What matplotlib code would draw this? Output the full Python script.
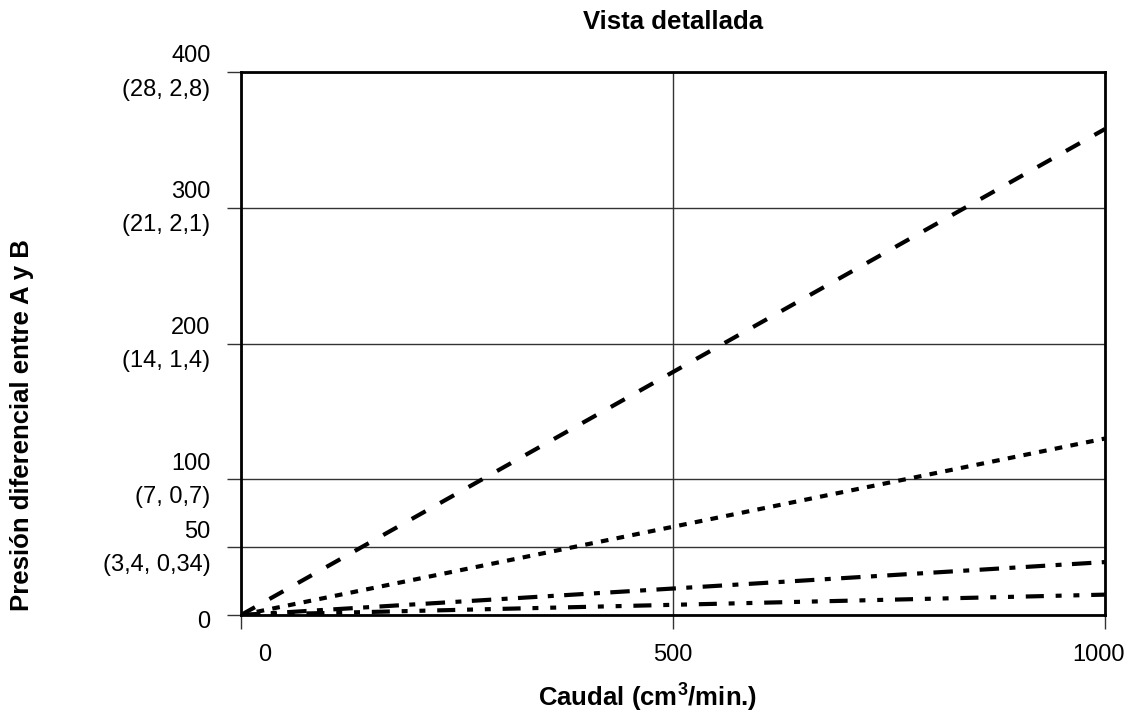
import numpy as np
import matplotlib
matplotlib.use('Agg')
from matplotlib import pyplot as plt
from matplotlib import transforms as mtrans

plt.rcParams['font.family'] = ['Liberation Sans', 'DejaVu Sans']
plt.rcParams['lines.scale_dashes'] = False

# caudal (cm3/min.)
caudal = [0, 1000]
# presion diferencial for each curve
serie_dash = [0, 358]
serie_dot = [0, 130]
serie_dashdot = [0, 39]
serie_dashdotdot = [0, 15]

yticks = [0, 50, 100, 200, 300, 400]
ylabels = ['0', '50\n(3,4, 0,34)', '100\n(7, 0,7)', '200\n(14, 1,4)',
           '300\n(21, 2,1)', '400\n(28, 2,8)']
xticks = [0, 500, 1000]
xlabels = ['0', '500', '1000']

fig = plt.figure(figsize=(11.29, 7.17), dpi=100)
ax = fig.add_axes([241/1129, 1 - 615/717, 864/1129, 543/717])

lw = 3.0
ax.plot(caudal, serie_dash, color='black', lw=lw,
        linestyle=(0, (11.5, 12)), dash_capstyle='butt')
ax.plot(caudal, serie_dot, color='black', lw=lw,
        linestyle=(0, (5.5, 6)), dash_capstyle='butt')
ax.plot(caudal, serie_dashdot, color='black', lw=lw,
        linestyle=(0, (14, 7.5, 4.3, 7.5)), dash_capstyle='butt')
ax.plot(caudal, serie_dashdotdot, color='black', lw=lw,
        linestyle=(0, (13, 8.5, 4.3, 8.5, 4.3, 8.5)), dash_capstyle='butt')

ax.set_xlim(0, 1000)
ax.set_ylim(0, 400)
ax.set_yticks(yticks)
ax.set_yticklabels(ylabels, fontsize=17, linespacing=1.65, ha='right')
ax.set_xticks(xticks)
ax.set_xticklabels(xlabels, fontsize=17)
ax.tick_params(axis='both', direction='out', length=10, width=1, color='#333333')
ax.tick_params(axis='y', pad=12)
ax.tick_params(axis='x', pad=11)

# nudge tick labels to where they sit in the original
def nudge(label, dx, dy):
    t = mtrans.ScaledTranslation(dx/100, dy/100, fig.dpi_scale_trans)
    label.set_transform(label.get_transform() + t)

xl = ax.get_xticklabels()
nudge(xl[0], 24, 0)
nudge(xl[2], -6, 0)
yl = ax.get_yticklabels()
nudge(yl[0], 0, -4)
for lab in yl[1:]:
    nudge(lab, 0, 7)

ax.grid(True, color='#333333', linewidth=1)
ax.set_axisbelow(True)
for s in ax.spines.values():
    s.set_linewidth(2)
    s.set_color('black')

ax.set_title('Vista detallada', fontsize=18.5, fontweight='bold', y=1.08, pad=0)
ax.set_xlabel('Caudal (cm$^{\\mathregular{3}}$/min.)', fontsize=18.5, fontweight='bold', va='center')
ax.xaxis.set_label_coords(0.471, -0.151)
ax.set_ylabel('Presión diferencial entre A y B', fontsize=18.5, fontweight='bold', va='center')
ax.yaxis.set_label_coords(-0.254, 0.35)

fig.savefig('out.png', dpi=100)
